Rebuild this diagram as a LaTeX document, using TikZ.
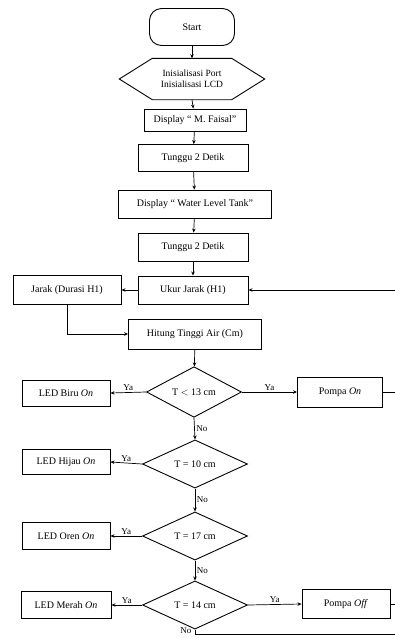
\documentclass[tikz,border=0pt]{standalone}
\usepackage{fontspec}
\setmainfont{Liberation Serif}
\usetikzlibrary{shapes.geometric,arrows.meta}

\begin{document}
\begin{tikzpicture}[x=1pt, y=-1pt, font=\fontsize{10}{11}\selectfont,
    box/.style={draw, line width=0.9pt, inner sep=1pt},
    choice/.style={draw, diamond, line width=0.9pt, inner sep=0pt},
    flow/.style={line width=0.7pt, -{Stealth[length=4pt,width=3.5pt]}},
    link/.style={line width=0.7pt},
    tag/.style={font=\fontsize{9}{10}\selectfont, inner sep=1.5pt}]
    \useasboundingbox (0,0) rectangle (395,638);

    % 开始与初始化
    \node[box, rounded corners=12pt, minimum width=85, minimum height=37] (start) at (192,27) {Start};
    \node[minimum width=145, minimum height=41, inner sep=0pt, align=center, font=\fontsize{9.5}{11}\selectfont] (init) at (192,79)
        {Inisialisasi Port\\Inisialisasi LCD};
    \draw[line width=0.9pt] (init.west) -- ([xshift=33pt]init.north west) -- ([xshift=-33pt]init.north east)
        -- (init.east) -- ([xshift=-33pt]init.south east) -- ([xshift=33pt]init.south west) -- cycle;
    \node[box, minimum width=102, minimum height=22] (disp1) at (195,120) {Display \textquotedblleft\ M. Faisal\textquotedblright};
    \node[box, minimum width=110, minimum height=27] (wait1) at (193,158) {Tunggu 2 Detik};
    \node[box, minimum width=153, minimum height=28] (disp2) at (195,204) {Display \textquotedblleft\ Water Level Tank\textquotedblright};
    \node[box, minimum width=110, minimum height=28] (wait2) at (193,247) {Tunggu 2 Detik};

    % 测距
    \node[box, minimum width=110, minimum height=28] (measure) at (193,290) {Ukur Jarak (H1)};
    \node[box, minimum width=108, minimum height=29] (dist) at (67,290) {Jarak (Durasi H1)};
    \node[box, minimum width=133, minimum height=30] (height) at (195,334) {Hitung Tinggi Air (Cm)};

    % 判断
    \node[choice, minimum width=95, minimum height=46] (d1) at (194,392) {T $<$ 13 cm};
    \node[choice, minimum width=105, minimum height=46] (d2) at (195,464) {T = 10 cm};
    \node[choice, minimum width=105, minimum height=47] (d3) at (195,536) {T = 17 cm};
    \node[choice, minimum width=105, minimum height=45] (d4) at (195,605) {T = 14 cm};

    % 输出
    \node[box, minimum width=88, minimum height=26] (blue) at (66,393) {LED Biru \textit{On}};
    \node[box, minimum width=88, minimum height=25] (green) at (66,462) {LED Hijau \textit{On}};
    \node[box, minimum width=88, minimum height=27] (orange) at (66,536) {LED Oren \textit{On}};
    \node[box, minimum width=90, minimum height=27] (red) at (66,605) {LED Merah \textit{On}};
    \node[box, minimum width=85, minimum height=30] (pumpon) at (340,392) {Pompa \textit{On}};
    \node[box, minimum width=88, minimum height=29] (pumpoff) at (346,604) {Pompa \textit{Off}};

    % 右侧回路端点
    \coordinate (back) at (395,290);
    \coordinate (onend) at (395,392);
    \coordinate (offend) at (395,604);
    \coordinate (noturn) at (195,634);
    \coordinate (noend) at (395,634);

    % 连线
    \draw[flow] (start) -- (init.north);
    \draw[flow] (init.south) -- (disp1);
    \draw[flow] (disp1) -- (wait1);
    \draw[flow] (wait1) -- (disp2);
    \draw[flow] (disp2) -- (wait2);
    \draw[flow] (wait2) -- (measure);
    \draw[flow] (measure) -- (dist);
    \draw[flow] (dist.south) |- (height.west);
    \draw[flow] (height) -- (d1);
    \draw[flow] (back) -- (measure.east);

    \draw[flow] (d1.west) -- node[tag, above] {Ya} (blue.east);
    \draw[flow] (d1.east) -- node[tag, above] {Ya} (pumpon.west);
    \draw[flow] (d1.south) -- node[tag, right] {No} (d2.north);
    \draw[flow] (d2.west) -- node[tag, above] {Ya} (green.east);
    \draw[flow] (d2.south) -- node[tag, right] {No} (d3.north);
    \draw[flow] (d3.west) -- node[tag, above] {Ya} (orange.east);
    \draw[flow] (d3.south) -- node[tag, right] {No} (d4.north);
    \draw[flow] (d4.west) -- node[tag, above] {Ya} (red.east);
    \draw[flow] (d4.east) -- node[tag, above] {Ya} (pumpoff.west);

    \draw[link] (pumpon.east) -- (onend);
    \draw[link] (pumpoff.east) -- (offend);
    \draw[link] (d4.south) -- (noturn) -- (noend);
    \node[tag, left] (nolabel) at (193,631) {No};
\end{tikzpicture}
\end{document}
